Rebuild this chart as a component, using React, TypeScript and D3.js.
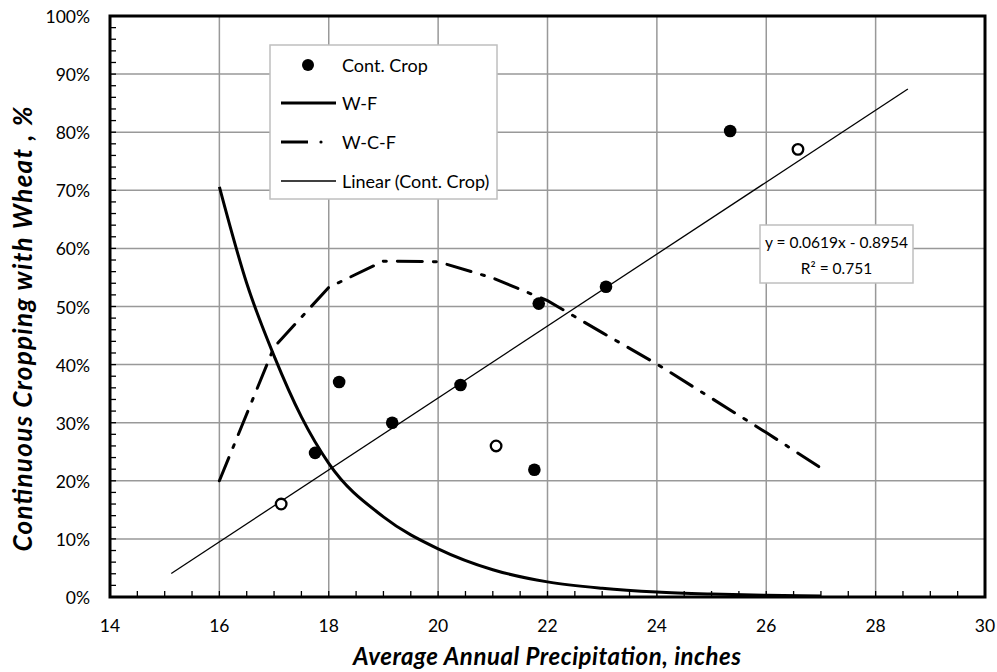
import React from "react";
import * as d3 from "d3";

const contCropFilled: [number, number][] = [
  [17.75, 0.248], [18.19, 0.37], [19.16, 0.30], [20.41, 0.365],
  [21.76, 0.219], [21.84, 0.505], [23.07, 0.534], [25.34, 0.802],
];
const contCropOpen: [number, number][] = [
  [17.13, 0.16], [21.06, 0.26], [26.58, 0.7705],
];
const wfX = [16, 16.5, 17, 17.5, 18, 19, 20, 21, 22, 23, 24, 25, 26, 27];
const wfY = [0.706, 0.54, 0.415, 0.31, 0.23, 0.138, 0.083, 0.047, 0.026, 0.015, 0.0085, 0.005, 0.0028, 0.0016];
const wcfX = [16, 17, 18, 19, 20, 21, 22, 23, 24, 25, 26, 27];
const wcfY = [0.20, 0.43, 0.533, 0.578, 0.577, 0.549, 0.51, 0.455, 0.401, 0.342, 0.283, 0.222];
const trendSlope = 0.0619;
const trendIntercept = -0.8954;
const trendRange = [15.12, 28.59];
const xTicks = [14, 16, 18, 20, 22, 24, 26, 28, 30];
const yTicks = [0, 0.1, 0.2, 0.3, 0.4, 0.5, 0.6, 0.7, 0.8, 0.9, 1.0];
const legendLabels = ["Cont. Crop", "W-F", "W-C-F", "Linear (Cont. Crop)"];
const eqLines = ["y = 0.0619x - 0.8954", "R² = 0.751"];

const FONT = "Lato, 'Open Sans', sans-serif";

export default function App() {
  const W = 997, H = 672;
  const x = d3.scaleLinear().domain([14, 30]).range([110, 985]);
  const y = d3.scaleLinear().domain([0, 1]).range([597, 16]);
  const xMinor = d3.range(14, 30.01, 0.5);
  const yMinor = d3.range(0, 1.001, 0.02);

  const lineGen = d3.line<[number, number]>().x(d => x(d[0])).y(d => y(d[1]));
  const wfPath = d3.line<[number, number]>().x(d => x(d[0])).y(d => y(d[1])).curve(d3.curveMonotoneX)(wfX.map((v, i) => [v, wfY[i]] as [number, number])) || "";
  const wcfPath = lineGen(wcfX.map((v, i) => [v, wcfY[i]] as [number, number])) || "";
  const trendPath = lineGen(trendRange.map(v => [v, trendSlope * v + trendIntercept] as [number, number])) || "";

  const x0 = x(14), x1 = x(30), y0 = y(0), y1 = y(1);
  const dash = "25 11 3 11";

  const lgX = 270, lgY = 45, lgW = 227, lgH = 154;
  const rows = [65, 103, 142, 181];

  return (
    <svg width={W} height={H} style={{ position: "absolute", left: 0, top: 0, background: "#fff" }} fontFamily={FONT}>
      <rect width={W} height={H} fill="#fff" />
      {/* grid */}
      {xTicks.slice(1, -1).map(t => (
        <line key={"gx" + t} x1={x(t)} x2={x(t)} y1={y1} y2={y0} stroke="#999" strokeWidth={1.5} />
      ))}
      {yTicks.slice(1, -1).map(t => (
        <line key={"gy" + t} x1={x0} x2={x1} y1={y(t)} y2={y(t)} stroke="#999" strokeWidth={1.5} />
      ))}
      {/* minor ticks */}
      {xMinor.map(t => (
        <line key={"mx" + t} x1={x(t)} x2={x(t)} y1={y0} y2={y0 - 6} stroke="#000" strokeWidth={1.3} />
      ))}
      {yMinor.map(t => (
        <line key={"my" + t} x1={x0} x2={x0 + 6} y1={y(t)} y2={y(t)} stroke="#000" strokeWidth={1.3} />
      ))}
      {/* frame */}
      <rect x={x0} y={y1} width={x1 - x0} height={y0 - y1} fill="none" stroke="#000" strokeWidth={3} />

      {/* tick labels */}
      {xTicks.map(t => (
        <text key={"tx" + t} x={x(t)} y={632} textAnchor="middle" fontSize={17.5} fill="#000">{t}</text>
      ))}
      {yTicks.map(t => (
        <text key={"ty" + t} x={90} y={y(t) + 7} textAnchor="end" fontSize={17.5} fill="#000">{d3.format(".0%")(t)}</text>
      ))}

      {/* series */}
      <path d={trendPath} fill="none" stroke="#000" strokeWidth={1.3} />
      <path d={wfPath} fill="none" stroke="#000" strokeWidth={3} />
      <path d={wcfPath} fill="none" stroke="#000" strokeWidth={3} strokeDasharray={dash} strokeLinecap="round" />
      {contCropFilled.map((d, i) => (
        <circle key={"f" + i} cx={x(d[0])} cy={y(d[1])} r={6.3} fill="#000" />
      ))}
      {contCropOpen.map((d, i) => (
        <circle key={"o" + i} cx={x(d[0])} cy={y(d[1])} r={5.3} fill="#fff" stroke="#000" strokeWidth={2.3} />
      ))}

      {/* legend */}
      <rect x={lgX} y={lgY} width={lgW} height={lgH} fill="#fff" stroke="#bfbfbf" strokeWidth={1.5} />
      <circle cx={308} cy={rows[0]} r={6} fill="#000" />
      <line x1={281} x2={336} y1={rows[1]} y2={rows[1]} stroke="#000" strokeWidth={3} />
      <line x1={281} x2={308} y1={rows[2]} y2={rows[2]} stroke="#000" strokeWidth={3} />
      <circle cx={321} cy={rows[2]} r={1.6} fill="#000" />
      <line x1={281} x2={336} y1={rows[3]} y2={rows[3]} stroke="#000" strokeWidth={1.3} />
      {legendLabels.map((l, i) => (
        <text key={l} x={342} y={rows[i] + 6.5} fontSize={18} fill="#000">{l}</text>
      ))}

      {/* equation */}
      <rect x={760} y={225} width={153} height={58} fill="#fff" stroke="#bfbfbf" strokeWidth={1.5} />
      {eqLines.map((l, i) => (
        <text key={l} x={836.5} y={248 + i * 26} textAnchor="middle" fontSize={15.5} fill="#000">{l}</text>
      ))}

      {/* axis titles */}
      <text x={547} y={665} textAnchor="middle" fontSize={24} fontWeight="bold" fontStyle="italic" fill="#000"
        textLength={388} lengthAdjust="spacing">
        Average Annual Precipitation, inches
      </text>
      <text transform={`translate(32, 329) rotate(-90)`} textAnchor="middle" fontSize={26} fontWeight="bold" fontStyle="italic" fill="#000"
        textLength={445} lengthAdjust="spacing">
        Continuous Cropping with Wheat , %
      </text>
    </svg>
  );
}
